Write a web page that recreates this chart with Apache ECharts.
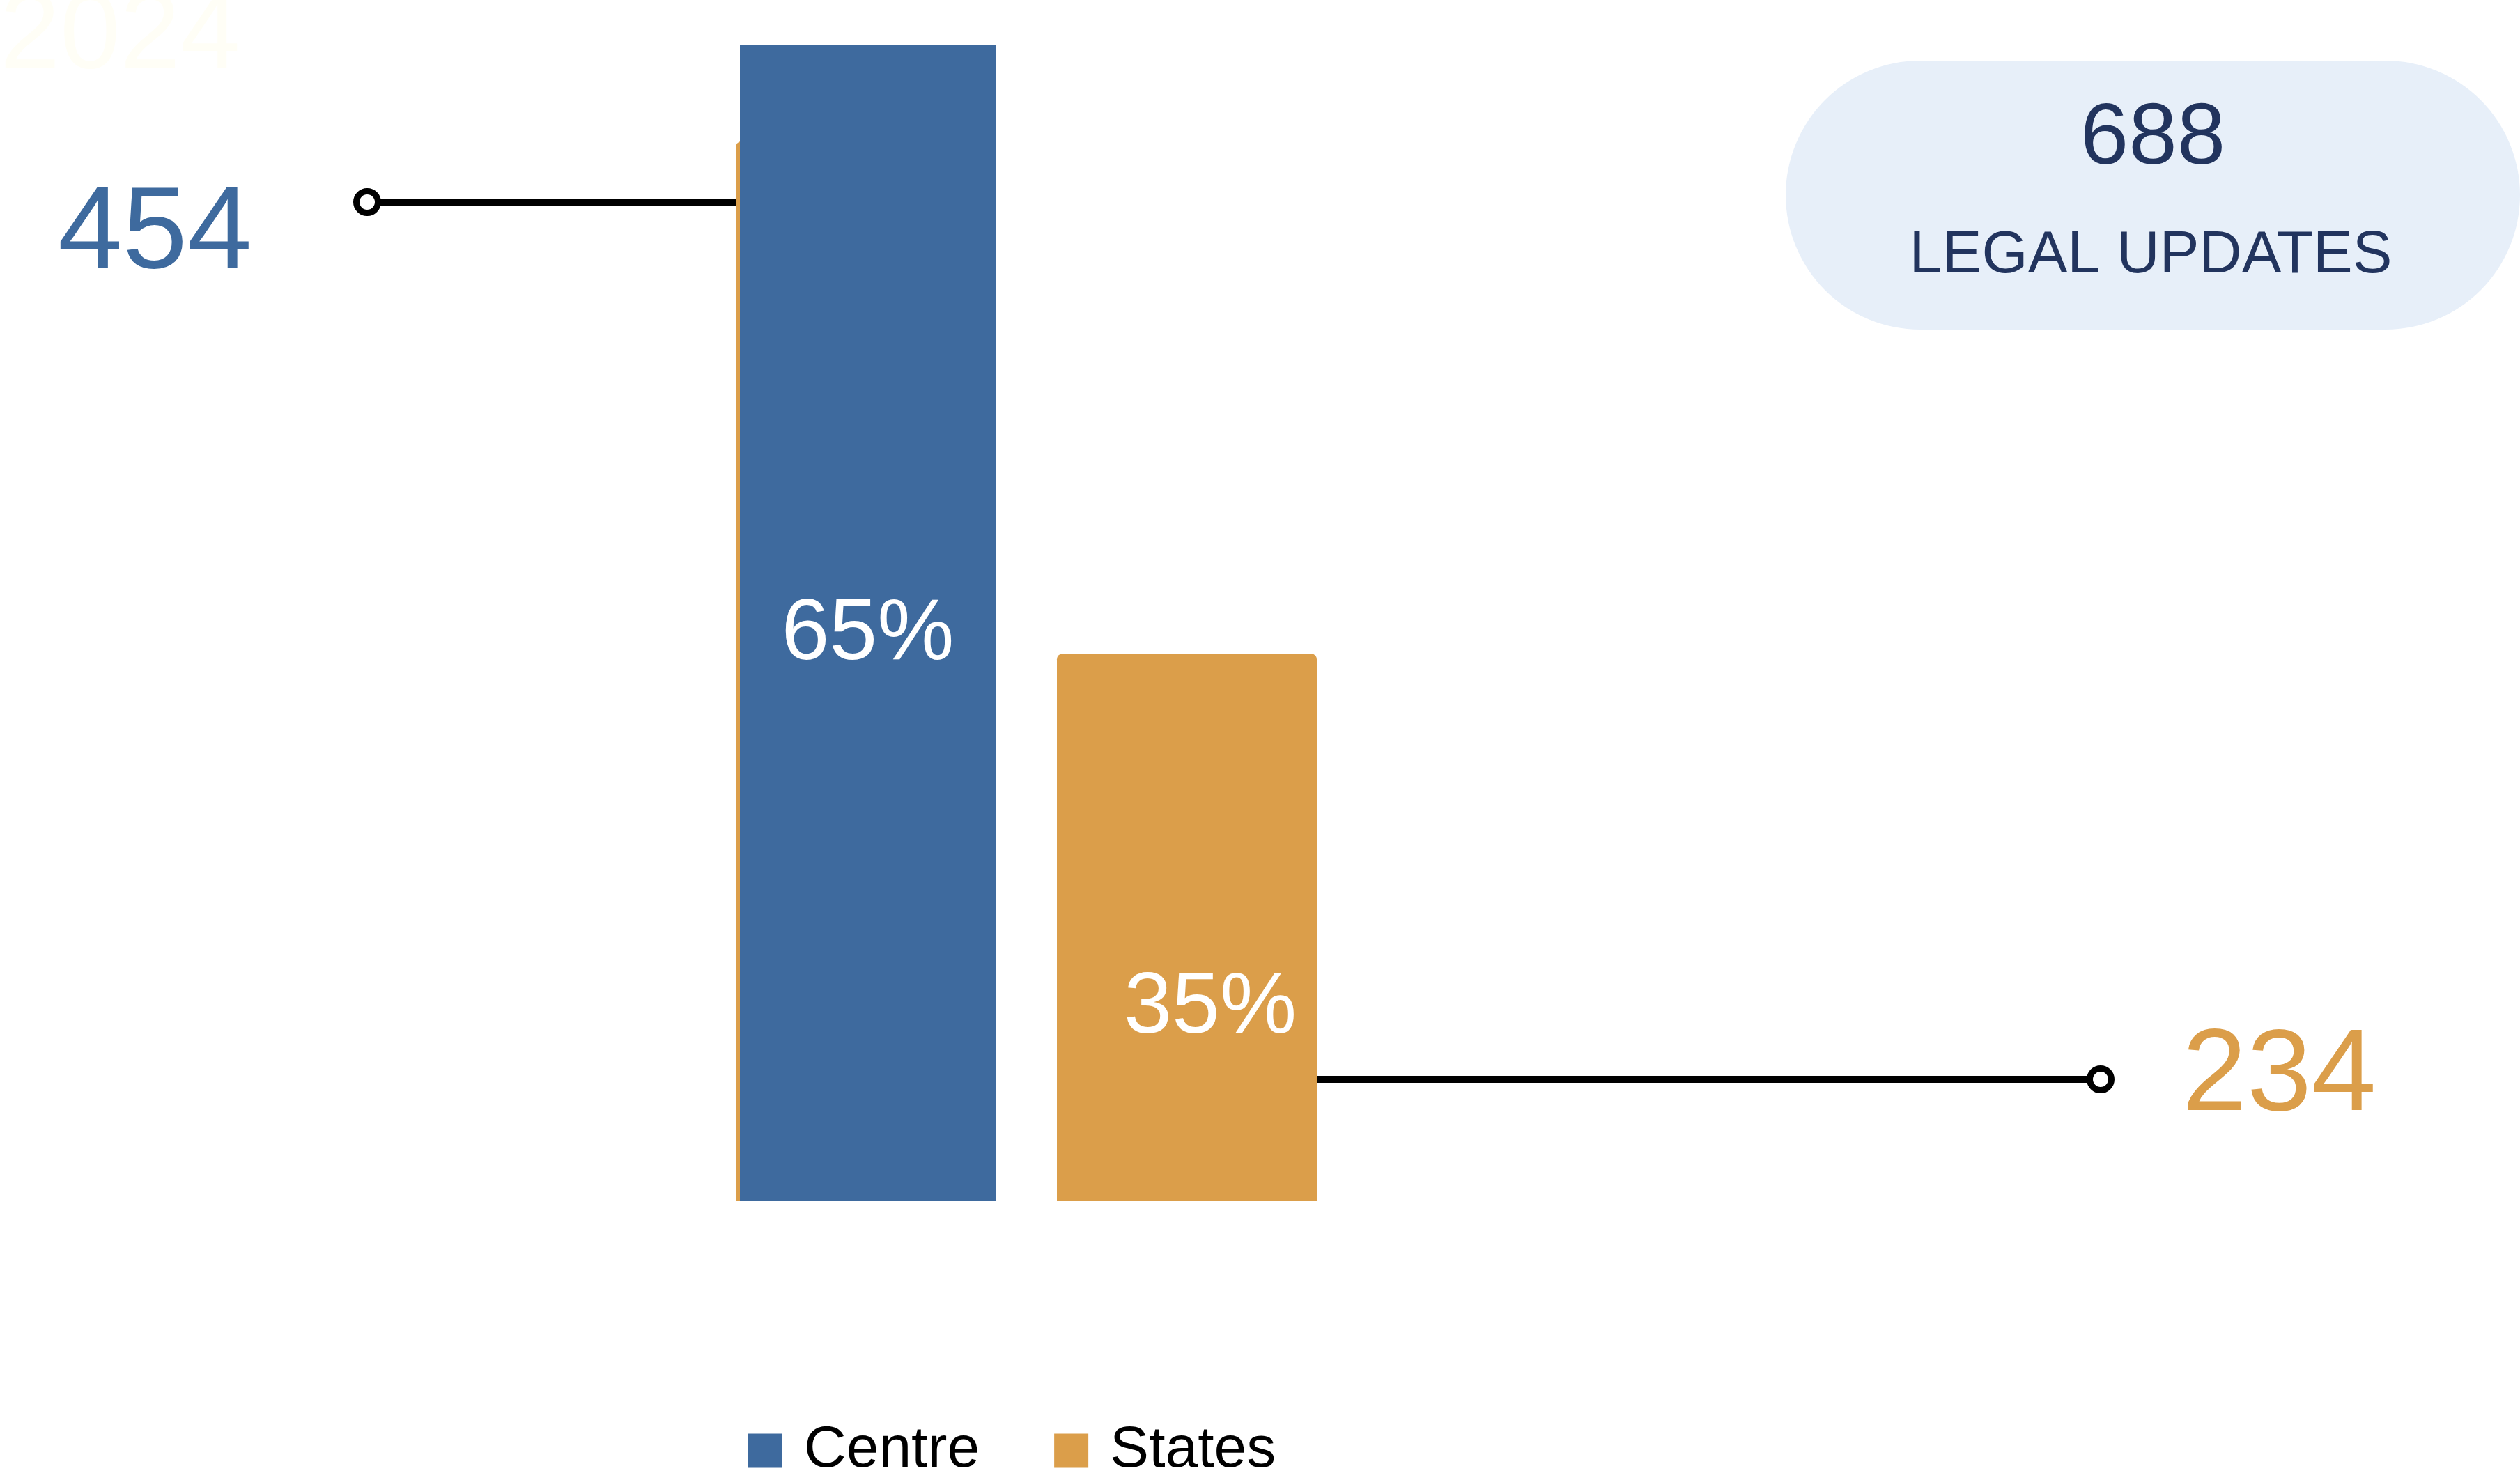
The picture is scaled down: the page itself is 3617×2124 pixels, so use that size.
<!DOCTYPE html>
<html><head><meta charset="utf-8">
<script src="https://cdn.jsdelivr.net/npm/echarts@6/dist/echarts.min.js"></script>
<style>html,body{margin:0;padding:0;background:#fff}#c{width:3617px;height:2124px}</style>
</head><body><div id="c"></div>
<script>
// ---- data ----
const categories = ['Centre', 'States'];
const centreValues = [454, '-'];
const statesValues = [419, 234];          // first value: orange backdrop behind the Centre bar
const percentLabels = { Centre: '65%', States: '35%' };
const legendNames = ['Centre', 'States'];
const totalLabel = 'LEGAL UPDATES';
const yearLabel = '2024';

// ---- style ----
const BLUE = '#3E6A9E', ORANGE = '#DB9E4A', NAVY = '#22345E';
const FONT = "'Liberation Sans', Arial, sans-serif";
const W_STATES = 373, W_CENTRE = 367;

const chart = echarts.init(document.getElementById('c'), null, { renderer: 'canvas' });

const labelFor = (pos) => ({
  show: true, position: pos, align: 'center', verticalAlign: 'middle',
  color: '#fff', fontSize: 124, fontFamily: FONT,
  formatter: p => (p.name === p.seriesName ? percentLabels[p.seriesName] : '')
});

chart.setOption({
  animation: false,
  backgroundColor: '#fff',
  grid: { left: 1012, right: 1683, top: 64, bottom: 401 },
  xAxis: { type: 'category', data: categories, show: false },
  yAxis: { type: 'value', min: 36.5, max: 454, show: false },
  legend: {
    data: legendNames, left: 1074, top: 2040, padding: 0,
    itemWidth: 49, itemHeight: 49, itemGap: 107, icon: 'rect',
    textStyle: { fontSize: 84, fontFamily: FONT, color: '#000', padding: [0, 0, 0, 26] }
  },
  series: [
    { name: 'States', type: 'bar', data: statesValues, barWidth: W_STATES, barGap: '-98.39%',
      clip: true, itemStyle: { color: ORANGE, borderRadius: [8, 8, 0, 0] },
      label: labelFor(['59%', '64.9%']) },
    { name: 'Centre', type: 'bar', data: centreValues, barWidth: W_CENTRE, barGap: '-98.39%',
      clip: true, itemStyle: { color: BLUE },
      label: labelFor(['50%', '51.1%']) }
  ]
});

const c0 = chart.convertToPixel({ xAxisIndex: 0 }, categories[0]);
const c1 = chart.convertToPixel({ xAxisIndex: 0 }, categories[1]);
const leftEdge = c0 - W_STATES / 2;
const rightEdge = c1 + W_STATES / 2;
const centreVal = centreValues[0];
const statesVal = statesValues[1];
const total = centreVal + statesVal;

const LEFT_Y = 290, RIGHT_Y = 1549, LEFT_DOT = 527, RIGHT_DOT = 3015;

chart.setOption({
  graphic: [
    { type: 'text', z: 1, style: { text: yearLabel, x: 0, y: 54, font: `155px ${FONT}`, fill: '#FFFEF6', verticalAlign: 'middle' } },
    { type: 'rect', z: 1, shape: { x: 2563, y: 87, width: 1054, height: 386, r: 193 }, style: { fill: '#E7EFF9' } },
    { type: 'text', z: 2, style: { text: String(total), x: 3090, y: 201, font: `125px ${FONT}`, fill: NAVY, align: 'center', verticalAlign: 'middle' } },
    { type: 'text', z: 2, style: { text: totalLabel, x: 3087, y: 368, font: `85px ${FONT}`, fill: NAVY, align: 'center', verticalAlign: 'middle' } },
    { type: 'text', z: 2, style: { text: String(centreVal), x: 83, y: 338, font: `167px ${FONT}`, fill: BLUE, verticalAlign: 'middle' } },
    { type: 'text', z: 2, style: { text: String(statesVal), x: 3132, y: 1547, font: `167px ${FONT}`, fill: ORANGE, verticalAlign: 'middle' } },
    { type: 'line', z: 3, shape: { x1: LEFT_DOT, y1: LEFT_Y, x2: leftEdge, y2: LEFT_Y }, style: { stroke: '#000', lineWidth: 10 } },
    { type: 'circle', z: 4, shape: { cx: LEFT_DOT, cy: LEFT_Y, r: 15.5 }, style: { fill: '#fff', stroke: '#000', lineWidth: 9 } },
    { type: 'line', z: 3, shape: { x1: rightEdge, y1: RIGHT_Y, x2: RIGHT_DOT, y2: RIGHT_Y }, style: { stroke: '#000', lineWidth: 10 } },
    { type: 'circle', z: 4, shape: { cx: RIGHT_DOT, cy: RIGHT_Y, r: 15.5 }, style: { fill: '#fff', stroke: '#000', lineWidth: 9 } }
  ]
});
</script></body></html>
